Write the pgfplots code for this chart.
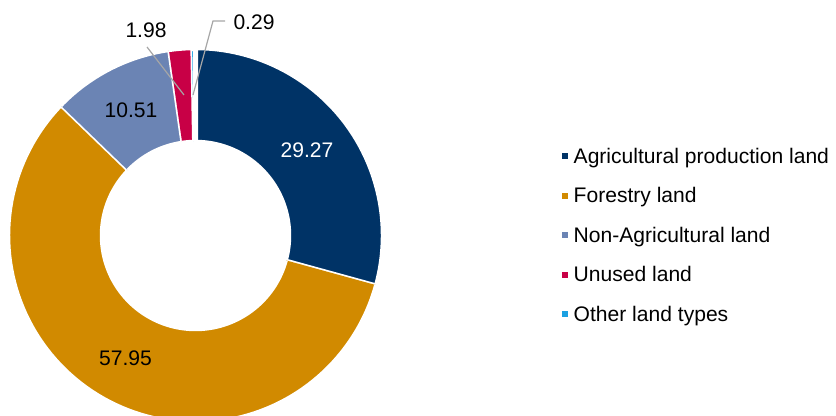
\documentclass[border=0pt]{standalone}
\usepackage{pgfplots}
\pgfplotsset{compat=1.18}
\usepackage{pgfplotstable}
\usepackage{fontspec}
\setmainfont{Liberation Sans}

\definecolor{c0}{RGB}{0,51,102}
\definecolor{c1}{RGB}{209,138,0}
\definecolor{c2}{RGB}{107,132,180}
\definecolor{c3}{RGB}{200,0,70}
\definecolor{c4}{RGB}{27,161,226}
\definecolor{leader}{RGB}{166,166,166}

% share of land use, percent
\pgfplotstableread{
value
29.27
57.95
10.51
1.98
0.29
}\landdata

% donut geometry in pixel units of the 836x416 canvas
\def\cx{195.5}
\def\cy{180.5}
\def\Ro{187}
\def\Ri{94}

% white separator widths; the tiny last slice disappears under its borders
\tikzset{w0/.style={line width=2.6pt}, w1/.style={line width=2.6pt},
  w2/.style={line width=2.6pt}, w3/.style={line width=2.6pt},
  w4/.style={line width=4pt}}

\begin{document}
\begin{tikzpicture}
\begin{axis}[
  scale only axis,
  width=627pt, height=312pt,
  xmin=0, xmax=836, ymin=0, ymax=416,
  hide axis,
  clip=true,
  font=\fontsize{15.8}{19}\selectfont,
  legend cell align=left,
  legend style={at={(axis cs:561.7,270.4)}, anchor=north west,
    draw=none, fill=none, inner sep=0pt, row sep=14pt,
    nodes={inner sep=0pt, text height=13pt, text depth=2.6pt}},
  legend image code/.code={
    \fill[#1, draw=none, line width=0pt] (0pt,-2.3pt) rectangle (4.6pt,2.3pt);
    \path[line width=0pt] (8.8pt,0pt);
  },
]
\xdef\cum{0}
\pgfplotsinvokeforeach{0,...,4}{
  \pgfplotstablegetelem{#1}{value}\of\landdata
  \pgfmathsetmacro\pa{90-3.6*\cum}
  \pgfmathsetmacro\pnew{\cum+\pgfplotsretval}
  \xdef\cum{\pnew}
  \pgfmathsetmacro\pb{90-3.6*\pnew}
  \addplot[fill=c#1, draw=white, w#1, line join=miter,
    variable=\t, domain=0:2, samples=201]
   ({\cx+ifthenelse(\t<1.005,\Ro,\Ri)*cos(ifthenelse(\t<1.005,\pa+(\pb-\pa)*\t,\pb-(\pb-\pa)*(\t-1.01)/0.99))},
    {\cy+ifthenelse(\t<1.005,\Ro,\Ri)*sin(ifthenelse(\t<1.005,\pa+(\pb-\pa)*\t,\pb-(\pb-\pa)*(\t-1.01)/0.99))});
}
\legend{Agricultural production land, Forestry land, Non-Agricultural land, Unused land, Other land types}

% value labels
\node[white, inner sep=0pt] at (axis cs:307,265.5) {29.27};
\node[inner sep=0pt] at (axis cs:125.5,57.3) {57.95};
\node[inner sep=0pt] at (axis cs:131,305.5) {10.51};
\node[inner sep=0pt] at (axis cs:146,386) {1.98};
\node[inner sep=0pt] at (axis cs:254,393.5) {0.29};
\draw[leader, line width=0.9pt] (axis cs:147,369) -- (axis cs:184,321);
\draw[leader, line width=0.9pt] (axis cs:225,395) -- (axis cs:213,395) -- (axis cs:193,321);

\coordinate (SW) at (rel axis cs:0,0);
\coordinate (NE) at (rel axis cs:1,1);
\end{axis}
\pgfresetboundingbox
\path (SW) rectangle (NE);
\end{tikzpicture}
\end{document}
